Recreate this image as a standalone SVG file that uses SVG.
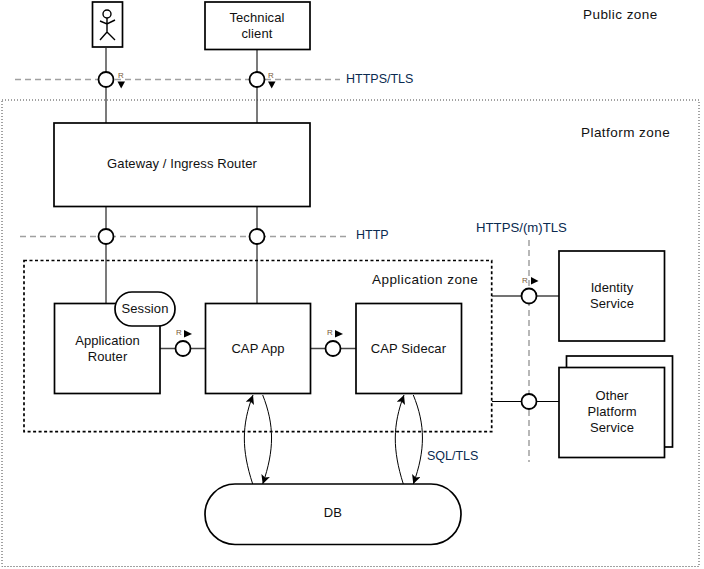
<svg xmlns="http://www.w3.org/2000/svg" width="704" height="569" viewBox="0 0 704 569">
<defs>
<style>
text{font-family:"Liberation Sans",Arial,sans-serif;font-size:13px;letter-spacing:.1px;fill:#111;text-anchor:middle}
.z{fill:#0a2a50;font-size:12.5px;letter-spacing:0;text-anchor:start}
.y{fill:#111;font-size:13.5px;letter-spacing:.45px;text-anchor:start}
.r{font-size:8px;letter-spacing:0;fill:#7a5a3a}
.b{fill:#fff;stroke:#000;stroke-width:1.7}
.c{stroke:#444;stroke-width:1.4;fill:none}
.d{stroke:#a0a0a0;stroke-width:1.5;stroke-dasharray:6 4;fill:none}
.o{fill:#fff;stroke:#000;stroke-width:1.8}
.t{fill:#000}
.a{stroke:#000;stroke-width:1;fill:none;marker-end:url(#ah)}
</style>
<marker id="ah" markerWidth="10" markerHeight="10" refX="9" refY="4.500" orient="auto" markerUnits="userSpaceOnUse"><path d="M0 0L9 4.500L0 9L2 4.500Z" fill="#000"/></marker>
</defs>
<rect id="platform-zone" x="2" y="100" width="697" height="466.500" fill="none" stroke="#444" stroke-width="1" stroke-dasharray="1 2"/>
<g id="connectors">
<path class="d" d="M15 79.500H340"/>
<path class="d" d="M20 236.500H348"/>
<path class="d" d="M529 240V462"/>
<path class="c" d="M106 48V123M257 50V123M106 207V303M257 207V303"/>
<path class="c" d="M160 348.500H205M311 348.500H356"/>
<path class="c" d="M492 296H559"/>
<path d="M492 401.500H559" stroke="#000" stroke-width="1" fill="none"/>
<path class="a" d="M252.700 484C241.500 450 241.500 425 253 395"/>
<path class="a" d="M262.700 395C274.500 425 274.500 450 262.700 484"/>
<path class="a" d="M403.300 484C392.500 450 392.500 425 404 395"/>
<path class="a" d="M413.300 395C425.500 425 425.500 450 413.300 484"/>
</g>
<rect id="application-zone" x="24" y="260.500" width="467.700" height="171.200" fill="none" stroke="#000" stroke-width="1.700" stroke-dasharray="3 2.500"/>
<g id="user"><rect class="b" x="92.500" y="2" width="30" height="45"/>
<g fill="none" stroke="#000" stroke-width="1.400"><circle cx="107" cy="14" r="4"/><path d="M107 18V32M100 21L107 24L115 20M100 40L107 32L115 40"/></g></g>
<g id="technical-client"><rect class="b" x="205" y="2" width="105" height="47.500"/><text x="257" y="21.500">Technical</text><text x="257" y="37.500">client</text></g>
<g id="gateway"><rect class="b" x="54" y="123" width="256" height="83.500"/><text x="182" y="168">Gateway / Ingress Router</text></g>
<g id="application-router"><rect class="b" x="54.500" y="303.500" width="105.500" height="90"/><text x="107.500" y="345">Application</text><text x="107.500" y="361">Router</text></g>
<g id="session"><rect class="b" x="115" y="292" width="60" height="34" rx="17"/><text x="145" y="313">Session</text></g>
<g id="cap-app"><rect class="b" x="205.500" y="303.500" width="105" height="90"/><text x="258" y="353">CAP App</text></g>
<g id="cap-sidecar"><rect class="b" x="356" y="303.500" width="105.500" height="90"/><text x="408.500" y="353">CAP Sidecar</text></g>
<g id="identity-service"><rect class="b" x="559" y="251" width="105.500" height="90"/><text x="612" y="292">Identity</text><text x="612" y="308">Service</text></g>
<g id="other-platform-service"><rect class="b" x="566.500" y="356" width="106" height="91"/><rect class="b" x="559" y="367.500" width="105.500" height="90"/><text x="612" y="400">Other</text><text x="612" y="416">Platform</text><text x="612" y="432">Service</text></g>
<g id="db"><rect class="b" x="205" y="484" width="256" height="60.500" rx="30"/><text x="333" y="517">DB</text></g>
<g id="interfaces">
<circle class="o" cx="106" cy="79.500" r="7.500"/><circle class="o" cx="257" cy="79.500" r="7.500"/>
<circle class="o" cx="106" cy="236.500" r="7.500"/><circle class="o" cx="257" cy="236.500" r="7.500"/>
<circle class="o" cx="183" cy="348.500" r="7.500"/><circle class="o" cx="333" cy="348.500" r="7.500"/>
<circle class="o" cx="529" cy="296" r="7.500"/><circle class="o" cx="529" cy="401.500" r="7.500"/>
<text class="r" x="121" y="78">R</text><path class="t" d="M117.500 81.500H125L121.200 88.500Z"/>
<text class="r" x="271" y="78">R</text><path class="t" d="M268 81.500H275.500L271.700 88.500Z"/>
<text class="r" x="179" y="335">R</text><path class="t" d="M184 330L192 334L184 337.500Z"/>
<text class="r" x="330" y="335">R</text><path class="t" d="M335 330L343 334L335 337.500Z"/>
<text class="r" x="525" y="283">R</text><path class="t" d="M531 277L538.500 281L531 284.500Z"/>
</g>
<g id="labels">
<text class="z" x="346" y="83">HTTPS/TLS</text>
<text class="z" x="356" y="239">HTTP</text>
<text class="z" x="476" y="232" style="font-size:13.200px">HTTPS/(m)TLS</text>
<text class="z" x="427" y="460">SQL/TLS</text>
<text class="y" x="583" y="19">Public zone</text>
<text class="y" x="581" y="137">Platform zone</text>
<text class="y" x="372" y="284">Application zone</text>
</g>
</svg>
